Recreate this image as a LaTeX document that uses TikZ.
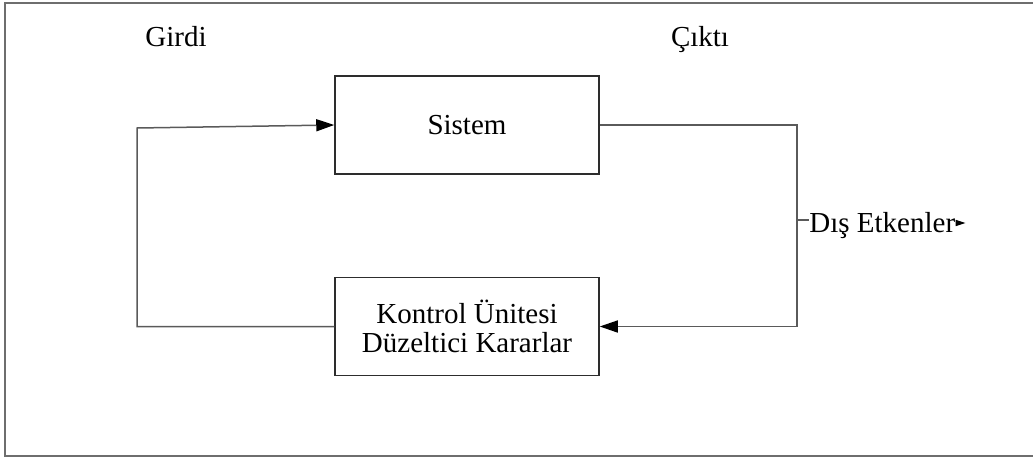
\documentclass[tikz,border=0pt]{standalone}
\usepackage{fontspec}
\setmainfont{Liberation Serif}
\usepackage{tikz}
\usetikzlibrary{
  positioning,
  arrows.meta
}
\definecolor{frameclr}{RGB}{110,110,110}
\definecolor{lineclr}{RGB}{90,90,90}
\definecolor{boxclr}{RGB}{45,45,45}
\tikzset{
  blockbox/.style={
    draw=boxclr, line width=0.75pt,
    minimum width=132pt, minimum height=49pt,
    font=\fontsize{14.5}{14.5}\selectfont, align=center
  },
  textlabel/.style={
    font=\fontsize{14.5}{14.5}\selectfont, align=center
  },
  flowline/.style={
    draw=lineclr, line width=0.75pt
  },
  flowarrow/.style={
    flowline, -{Triangle[length=9pt,width=6pt,color=black]}
  },
  smallarrow/.style={
    flowline, -{Triangle[length=5pt,width=3pt,color=black]}
  }
}

\begin{document}
\begin{tikzpicture}[x=0.5pt, y=-0.5pt]

    \useasboundingbox (0,0) rectangle (1033,461);
    \draw[draw=frameclr, line width=1pt] (1033,3) -- (4.5,3) -- (4.5,456) -- (1033,456);

    \node[blockbox] (sistem) at (467,125) {Sistem};
    \node[blockbox, below=51pt of sistem] (kontrol) {Kontrol Ünitesi\\Düzeltici Kararlar};

    \node[textlabel, anchor=base] (girdi) at (176,46) {Girdi};
    \node[textlabel, anchor=base] (cikti) at (700,46) {Çıktı};

    \coordinate (rightx) at (797,0);
    \coordinate (leftup) at (137,128);
    \coordinate (leftdown) at (137,324);
    \coordinate (etken) at (797,220);

    \draw[flowarrow] (sistem.east) -- (sistem.east -| rightx) |- (kontrol.east);
    \draw[flowarrow] (kontrol.west) -- (kontrol.west -| leftdown) -- (leftup) -- (sistem.west);

    \node[textlabel, inner sep=0pt, anchor=west] (etkenler) at (809,226) {Dış Etkenler};
    \draw[flowline] (etken) -- (etken -| etkenler.west);
    \draw[smallarrow] ([yshift=1.5pt]etkenler.east) -- ++(10,0);

\end{tikzpicture}
\end{document}
